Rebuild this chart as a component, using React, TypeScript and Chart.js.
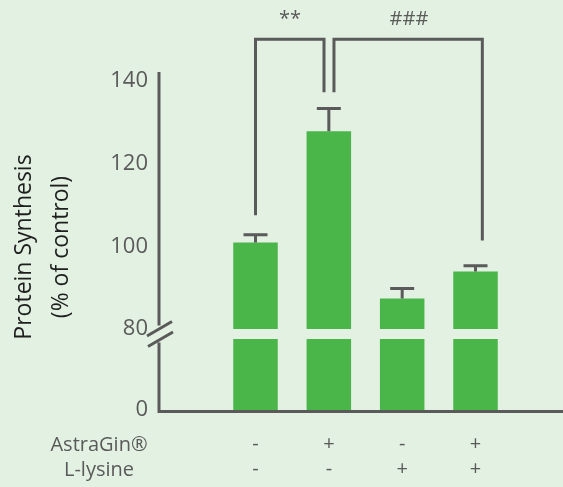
import React, { useEffect, useRef } from "react";
import { Chart, registerables } from "chart.js";

Chart.register(...registerables);

// ---- data ----
const categories = ["Control", "AstraGin", "L-lysine", "AstraGin + L-lysine"];
const astraGinRow = ["-", "+", "-", "+"];
const lysineRow = ["-", "-", "+", "+"];
const rowLabels = ["AstraGin®", "L-lysine"];
const proteinSynthesis = [100.9, 127.8, 87.4, 93.9];
const sem = [1.9, 5.5, 2.4, 1.4];
const upperTicks = [80, 100, 120, 140];
const lowerTicks = [0];
const breakValue = 80;
const yTitle = ["Protein Synthesis", "(% of control)"];
// significance brackets (x in category index units, y in % of control)
const bracketFrom = [0, 1.07];
const bracketTo = [0.934, 3.093];
const bracketFromY = [107.5, 137.2];
const bracketToY = [137.2, 101.4];
const bracketTopY = [150, 150];
const bracketLabels = ["**", "###"];
const bracketLabelX = [0.469, 2.093];
const bracketLabelY = [153.4, 153.4];

// ---- styles ----
const BG = "#e2f1e2";
const GREEN = "#4ab548";
const GREY = "#5a5a5a";
const FONT = "'Open Sans', sans-serif";

export default function App() {
  const ref = useRef<HTMLCanvasElement>(null);

  useEffect(() => {
    const canvas = ref.current!;
    Chart.defaults.font.family = FONT;

    const decor = {
      id: "decor",
      beforeDraw(chart: any) {
        const ctx = chart.ctx;
        ctx.save();
        ctx.fillStyle = BG;
        ctx.fillRect(0, 0, chart.width, chart.height);
        ctx.restore();
      },
      afterDatasetsDraw(chart: any) {
        const ctx = chart.ctx;
        const xs = chart.scales.x;
        const yh = chart.scales.yHigh;
        const yl = chart.scales.yLow;
        const area = chart.chartArea;
        ctx.save();
        ctx.strokeStyle = GREY;
        ctx.lineWidth = 3;
        ctx.lineCap = "butt";

        // error bars
        proteinSynthesis.forEach((v, i) => {
          const x = xs.getPixelForValue(i);
          const y0 = yh.getPixelForValue(v);
          const y1 = yh.getPixelForValue(v + sem[i]);
          ctx.beginPath();
          ctx.moveTo(x, y0);
          ctx.lineTo(x, y1);
          ctx.moveTo(x - 12, y1);
          ctx.lineTo(x + 12, y1);
          ctx.stroke();
        });

        // brackets
        bracketFrom.forEach((f, i) => {
          const xa = xs.getPixelForValue(f);
          const xb = xs.getPixelForValue(bracketTo[i]);
          const yt = yh.getPixelForValue(bracketTopY[i]);
          ctx.beginPath();
          ctx.moveTo(xa, yh.getPixelForValue(bracketFromY[i]));
          ctx.lineTo(xa, yt);
          ctx.lineTo(xb, yt);
          ctx.lineTo(xb, yh.getPixelForValue(bracketToY[i]));
          ctx.stroke();
        });
        ctx.fillStyle = GREY;
        ctx.font = `20px ${FONT}`;
        ctx.textAlign = "center";
        ctx.textBaseline = "alphabetic";
        bracketLabels.forEach((t, i) => {
          ctx.fillText(t, xs.getPixelForValue(bracketLabelX[i]), yh.getPixelForValue(bracketLabelY[i]));
        });

        // axes with break
        const left = area.left;
        const y80 = yh.getPixelForValue(breakValue);
        const yb2 = yl.top + 1.5;
        ctx.beginPath();
        ctx.moveTo(left, area.top);
        ctx.lineTo(left, y80 - 3.5);
        ctx.moveTo(left, yb2 + 2);
        ctx.lineTo(left, area.bottom + 3);
        ctx.moveTo(left - 1.5, area.bottom + 1.5);
        ctx.lineTo(chart.width, area.bottom + 1.5);
        // break slashes
        ctx.moveTo(left - 12, y80 + 7);
        ctx.lineTo(left + 13, y80 - 7.5);
        ctx.moveTo(left - 11, yb2 + 6);
        ctx.lineTo(left + 14, yb2 - 8.5);
        ctx.stroke();

        // row labels
        ctx.font = `20px ${FONT}`;
        ctx.textBaseline = "middle";
        ctx.textAlign = "center";
        ctx.fillStyle = GREY;
        ctx.fillText(rowLabels[0], 99, 445);
        ctx.fillText(rowLabels[1], 99, 470);

        // y title
        ctx.fillStyle = "#1e1e1e";
        ctx.font = `23px ${FONT}`;
        ctx.translate(0, 247);
        ctx.rotate(-Math.PI / 2);
        ctx.fillText(yTitle[0], 0, 24);
        ctx.fillText(yTitle[1], 0, 61);
        ctx.restore();
      },
    };

    const chart = new Chart(canvas, {
      type: "bar",
      data: {
        datasets: [
          {
            label: "upper",
            data: proteinSynthesis.map((v, i) => ({ x: i, y: [breakValue, v] })) as any,
            yAxisID: "yHigh",
            backgroundColor: GREEN,
            grouped: false,
            barPercentage: 0.607,
            categoryPercentage: 1,
          },
          {
            label: "lower",
            data: proteinSynthesis.map((_, i) => ({ x: i, y: [0, breakValue] })) as any,
            yAxisID: "yLow",
            backgroundColor: GREEN,
            grouped: false,
            barPercentage: 0.607,
            categoryPercentage: 1,
          },
        ],
      },
      options: {
        responsive: false,
        animation: false,
        devicePixelRatio: 1,
        layout: { padding: { top: 72, left: 0, right: 0, bottom: 0 } },
        plugins: { legend: { display: false }, tooltip: { enabled: false }, title: { display: false } },
        scales: {
          x: {
            type: "linear",
            offset: false,
            min: -1.316,
            max: 4.193,
            grid: { display: false, drawTicks: false, offset: false },
            border: { display: false },
            afterBuildTicks: (s: any) => {
              s.ticks = categories.map((_, i) => ({ value: i }));
            },
            afterFit: (s: any) => {
              s.height = 77;
            },
            ticks: {
              autoSkip: false,
              maxRotation: 0,
              padding: 22,
              color: GREY,
              font: { size: 20, lineHeight: 1.25 },
              callback: (_v: any, i: number) => [astraGinRow[i], lysineRow[i]],
            },
          },
          yLow: {
            type: "linear",
            position: "left",
            stack: "y",
            stackWeight: 71,
            min: 0,
            max: breakValue,
            grid: { display: false, drawTicks: false },
            border: { display: false },
            afterBuildTicks: (s: any) => {
              s.ticks = lowerTicks.map((v) => ({ value: v }));
            },
            afterFit: (s: any) => {
              s.width = 159;
            },
            ticks: { padding: 11, color: GREY, font: { size: 22 } },
          },
          yHigh: {
            type: "linear",
            position: "left",
            stack: "y",
            stackWeight: 267,
            min: 77.6,
            max: 142.1,
            grid: { display: false, drawTicks: false },
            border: { display: false },
            afterBuildTicks: (s: any) => {
              s.ticks = upperTicks.map((v) => ({ value: v }));
            },
            afterFit: (s: any) => {
              s.width = 159;
            },
            ticks: { padding: 11, color: GREY, font: { size: 22 } },
          },
        } as any,
      },
      plugins: [decor],
    });
    return () => chart.destroy();
  }, []);

  return (
    <div style={{ position: "fixed", left: 0, top: 0, width: 563, height: 487, background: BG }}>
      <canvas ref={ref} width={563} height={487} style={{ display: "block", width: 563, height: 487 }} />
    </div>
  );
}
